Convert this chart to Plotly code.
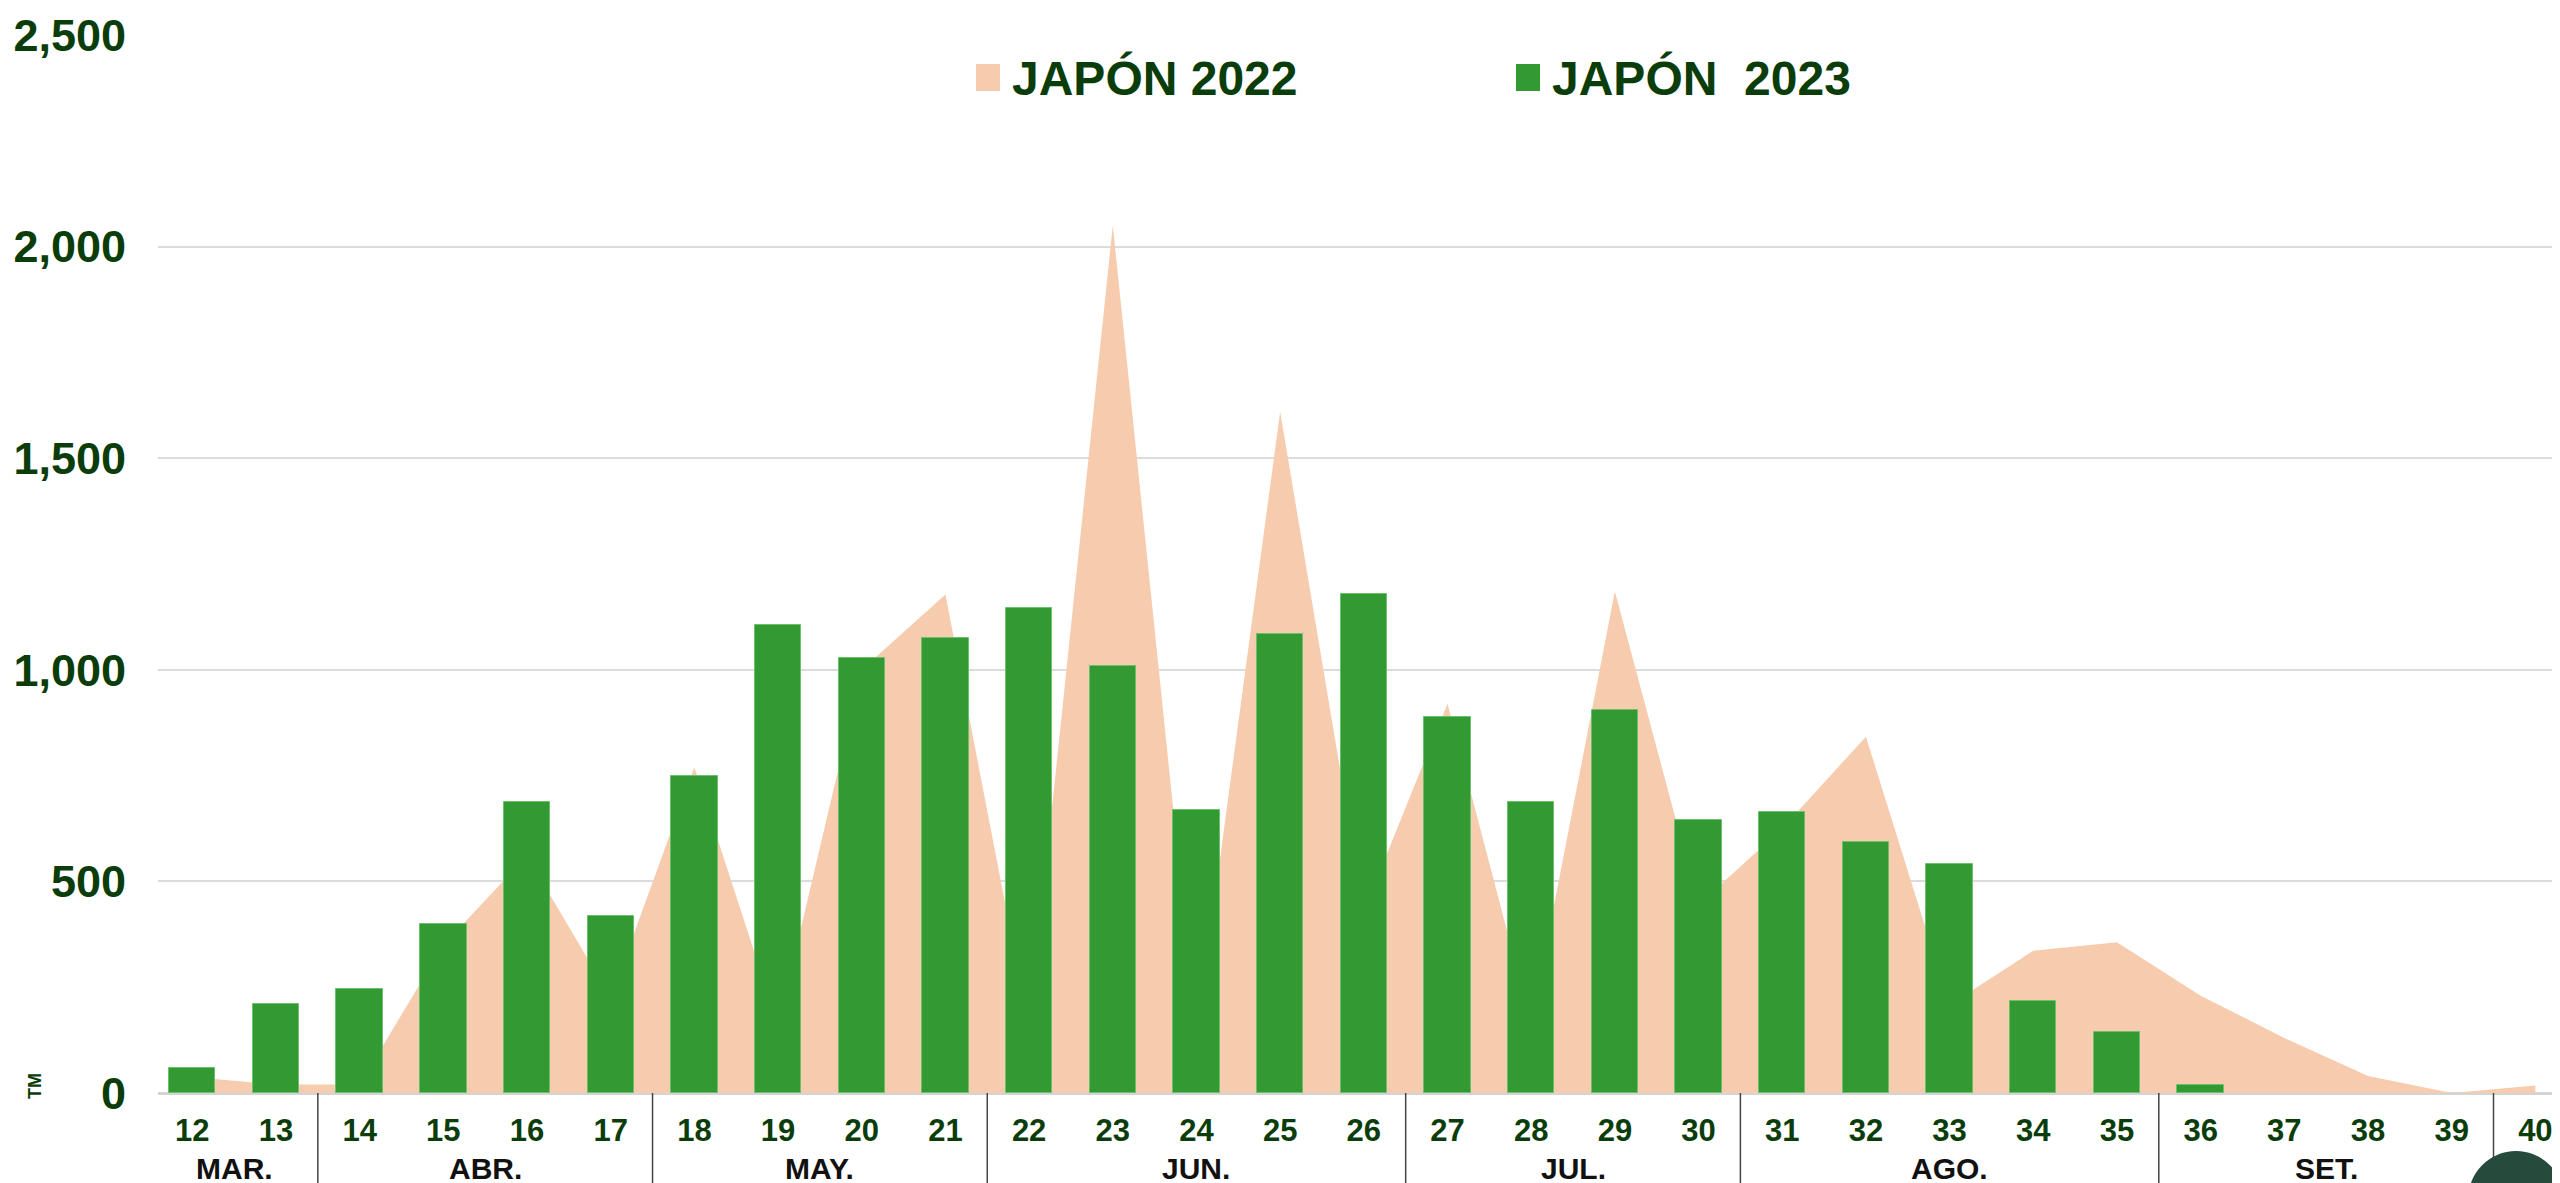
import plotly.graph_objects as go

# Semanas (eje X) y meses
weeks = list(range(12, 41))
months = ['MAR.', 'ABR.', 'MAY.', 'JUN.', 'JUL.', 'AGO.', 'SET.']
month_weeks = [(12, 13), (14, 17), (18, 21), (22, 26), (27, 30), (31, 35), (36, 39)]

# Toneladas por semana
japon_2022 = [38, 20, 20, 350, 560, 225, 770, 160, 1000, 1178, 155, 2050, 140, 1610,
              430, 920, 165, 1185, 445, 625, 842, 208, 336, 356, 230, 130, 40, 0, 18]
japon_2023 = [60, 210, 245, 400, 688, 418, 748, 1106, 1027, 1076, 1146, 1008, 669, 1084,
              1180, 889, 688, 906, 645, 663, 594, 542, 218, 143, 20, None, None, None, None]

GREEN_TXT = '#0b3d0b'
FONT = 'Liberation Sans, Arial, sans-serif'

X_RANGE = [11.59, 40.39]
Y_RANGE = [0, 2500]

fig = go.Figure()

# 2022 as area on the base axes (drawn below)
fig.add_trace(go.Scatter(
    x=weeks, y=japon_2022,
    mode='none',
    fill='tozeroy',
    fillcolor='#f7cbad',
    name='JAPÓN 2022',
    showlegend=False
))

# 2023 bars on an overlaid pair of axes so they sit on top of the area
fig.add_trace(go.Bar(
    x=weeks, y=japon_2023,
    width=0.554,
    marker=dict(color='#339933', line=dict(color='#6cc06c', width=1)),
    name='JAPÓN  2023',
    showlegend=False,
    xaxis='x2', yaxis='y2'
))

# plot area in pixels: x 150..2560, y 27..1085
L, R, T, B = 150, 2560, 27, 1085


def px(xp):
    return (xp - L) / (R - L)


def py(yp):
    return (B - yp) / (B - T)


shapes = []
annotations = []

# legend drawn by hand (square markers)
legend_items = [('JAPÓN 2022', '#f7cbad', 968, 1002), ('JAPÓN  2023', '#339933', 1508, 1542)]
for label, col, mx, tx in legend_items:
    shapes.append(dict(type='rect', xref='paper', yref='paper',
                       x0=px(mx), x1=px(mx + 24), y0=py(83), y1=py(56),
                       fillcolor=col, line=dict(width=0)))
    annotations.append(dict(text=label, xref='paper', yref='paper', x=px(tx), y=py(70),
                            xanchor='left', yanchor='middle', showarrow=False,
                            font=dict(family=FONT, size=48, color=GREEN_TXT, weight='bold')))

# month labels and separators
for m, (a, b) in zip(months, month_weeks):
    annotations.append(dict(text=m, xref='x', yref='paper', x=(a + b) / 2, y=py(1160),
                            xanchor='center', yanchor='middle', showarrow=False,
                            font=dict(family=FONT, size=30, color='#111111', weight='bold')))
for sep in [13.5, 17.5, 21.5, 26.5, 30.5, 35.5, 39.5]:
    shapes.append(dict(type='line', xref='x', yref='paper', x0=sep, x1=sep,
                       y0=0, y1=py(1176), line=dict(color='#444444', width=1.5)))

# unit label
annotations.append(dict(text='TM', xref='paper', yref='paper', x=px(27), y=py(1078),
                        xanchor='center', yanchor='middle', textangle=-90, showarrow=False,
                        font=dict(family=FONT, size=18, color=GREEN_TXT, weight='bold')))

# dark round button in the corner
shapes.append(dict(type='circle', xref='paper', yref='paper',
                   x0=px(2460), x1=px(2556), y0=py(1240), y1=py(1143),
                   fillcolor='#264a3c', line=dict(width=0)))

fig.update_layout(
    width=2560, height=1183,
    margin=dict(l=L, r=2560 - R, t=T, b=1183 - B),
    plot_bgcolor='white',
    paper_bgcolor='white',
    showlegend=False,
    bargap=0,
    shapes=shapes,
    annotations=annotations,
    xaxis=dict(
        range=X_RANGE,
        tickvals=weeks,
        ticktext=[str(w) for w in weeks],
        tickfont=dict(family=FONT, size=31, color=GREEN_TXT, weight='bold'),
        ticks='',
        ticklabelstandoff=16,
        ticklabeloverflow='allow',
        showgrid=False,
        zeroline=False,
        showline=False,
        automargin=False,
    ),
    yaxis=dict(
        range=Y_RANGE,
        tickvals=[0, 500, 1000, 1500, 2000, 2500],
        tickformat=',',
        tickfont=dict(family=FONT, size=45, color=GREEN_TXT, weight='bold'),
        ticks='',
        ticklabelstandoff=31,
        ticklabeloverflow='allow',
        showgrid=True,
        gridcolor='#dcdcdc',
        gridwidth=2,
        zeroline=True,
        zerolinecolor='#d4d4d4',
        zerolinewidth=3,
        automargin=False,
    ),
    xaxis2=dict(overlaying='x', range=X_RANGE, visible=False, automargin=False),
    yaxis2=dict(overlaying='y', range=Y_RANGE, visible=False, automargin=False),
)

fig.write_html("out.html")
